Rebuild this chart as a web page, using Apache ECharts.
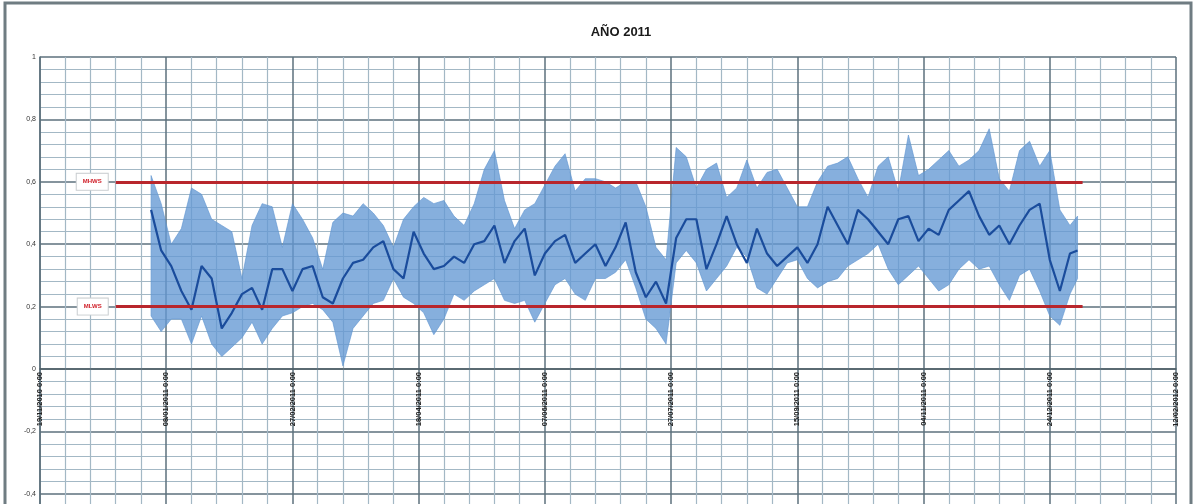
<!DOCTYPE html>
<html>
<head>
<meta charset="utf-8">
<script src="https://cdn.jsdelivr.net/npm/echarts@6/dist/echarts.min.js"></script>
<style>
html, body { margin: 0; padding: 0; background: #fff; }
#grafico { width: 1195px; height: 504px; }
</style>
</head>
<body>
<div id="grafico"></div>
<script>
const titulo = 'AÑO 2011';

// dias contados desde el 19/11/2010
const dias = [44, 48, 52, 56, 60, 64, 68, 72, 76, 80, 84, 88, 92, 96, 100, 104, 108, 112, 116, 120,
    124, 128, 132, 136, 140, 144, 148, 152, 156, 160, 164, 168, 172, 176, 180, 184, 188, 192, 196, 200,
    204, 208, 212, 216, 220, 224, 228, 232, 236, 240, 244, 248, 252, 256, 260, 264, 268, 272, 276, 280,
    284, 288, 292, 296, 300, 304, 308, 312, 316, 320, 324, 328, 332, 336, 340, 344, 348, 352, 356, 360,
    364, 368, 372, 376, 380, 384, 388, 392, 396, 400, 404, 408, 411];

const maximos = [0.62, 0.53, 0.40, 0.45, 0.58, 0.56, 0.48, 0.46, 0.44, 0.29, 0.46, 0.53, 0.52, 0.39, 0.53, 0.48, 0.42, 0.32, 0.47, 0.50,
    0.49, 0.53, 0.50, 0.46, 0.39, 0.48, 0.52, 0.55, 0.53, 0.54, 0.49, 0.46, 0.53, 0.64, 0.70, 0.54, 0.45, 0.51, 0.53, 0.59,
    0.65, 0.69, 0.57, 0.61, 0.61, 0.60, 0.58, 0.60, 0.60, 0.52, 0.39, 0.35, 0.71, 0.68, 0.58, 0.64, 0.66, 0.55, 0.58, 0.67,
    0.58, 0.63, 0.64, 0.58, 0.52, 0.52, 0.60, 0.65, 0.66, 0.68, 0.61, 0.55, 0.65, 0.68, 0.57, 0.75, 0.62, 0.64, 0.67, 0.70,
    0.65, 0.67, 0.70, 0.77, 0.61, 0.57, 0.70, 0.73, 0.65, 0.70, 0.51, 0.46, 0.49];

const minimos = [0.17, 0.12, 0.16, 0.16, 0.08, 0.17, 0.08, 0.04, 0.07, 0.10, 0.15, 0.08, 0.13, 0.17, 0.18, 0.20, 0.21, 0.19, 0.15, 0.01,
    0.13, 0.17, 0.21, 0.22, 0.29, 0.23, 0.21, 0.18, 0.11, 0.16, 0.24, 0.22, 0.25, 0.27, 0.29, 0.22, 0.21, 0.22, 0.15, 0.21,
    0.27, 0.29, 0.24, 0.22, 0.29, 0.29, 0.31, 0.35, 0.26, 0.16, 0.13, 0.08, 0.34, 0.38, 0.34, 0.25, 0.29, 0.33, 0.39, 0.36,
    0.26, 0.24, 0.29, 0.34, 0.35, 0.29, 0.26, 0.28, 0.29, 0.33, 0.35, 0.37, 0.40, 0.32, 0.27, 0.30, 0.33, 0.29, 0.25, 0.27,
    0.32, 0.35, 0.32, 0.33, 0.27, 0.22, 0.30, 0.32, 0.25, 0.17, 0.14, 0.24, 0.29];

const medias = [0.51, 0.38, 0.33, 0.25, 0.19, 0.33, 0.29, 0.13, 0.18, 0.24, 0.26, 0.19, 0.32, 0.32, 0.25, 0.32, 0.33, 0.23, 0.21, 0.29,
    0.34, 0.35, 0.39, 0.41, 0.32, 0.29, 0.44, 0.37, 0.32, 0.33, 0.36, 0.34, 0.40, 0.41, 0.46, 0.34, 0.41, 0.45, 0.30, 0.37,
    0.41, 0.43, 0.34, 0.37, 0.40, 0.33, 0.39, 0.47, 0.31, 0.23, 0.28, 0.21, 0.42, 0.48, 0.48, 0.32, 0.40, 0.49, 0.40, 0.34,
    0.45, 0.37, 0.33, 0.36, 0.39, 0.34, 0.40, 0.52, 0.46, 0.40, 0.51, 0.48, 0.44, 0.40, 0.48, 0.49, 0.41, 0.45, 0.43, 0.51,
    0.54, 0.57, 0.49, 0.43, 0.46, 0.40, 0.46, 0.51, 0.53, 0.35, 0.25, 0.37, 0.38];

const niveles = ['MHWS', 'MLWS'];
const nivelValores = [0.6, 0.2];
const nivelDesde = 30;
const nivelHasta = 413;

const etiquetasY = ['-0,6', '-0,4', '-0,2', '0', '0,2', '0,4', '0,6', '0,8', '1'];

function fechaDia(d) {
    const f = new Date(Date.UTC(2010, 10, 19) + d * 86400000);
    const dd = String(f.getUTCDate()).padStart(2, '0');
    const mm = String(f.getUTCMonth() + 1).padStart(2, '0');
    return dd + '/' + mm + '/' + f.getUTCFullYear() + ' 0:00';
}

const grafico = echarts.init(document.getElementById('grafico'));

const lineaMayor = { color: '#5c717c', width: 1.5 };
const lineaMenor = { color: '#a3b8c5', width: 1.2 };

// grid: 1 arriba (y=57), 0 en y=369, -0,6 fuera del recorte
const gridAlto = 499.2;
const ejeXDesplaz = -(gridAlto * 0.6 / 1.6);

// banda max-min como un poligono, con las escalas del propio eje
function dibujarBanda(params, api) {
    if (params.dataIndex !== 0) return null;
    const arriba = dias.map((d, i) => api.coord([d, maximos[i]]));
    const abajo = dias.map((d, i) => api.coord([d, minimos[i]])).reverse();
    return {
        type: 'polygon',
        shape: { points: arriba.concat(abajo) },
        style: { fill: '#6499d4', opacity: 0.78, stroke: '#5f95d0', lineWidth: 0.8 }
    };
}

const option = {
    animation: false,
    backgroundColor: '#fff',
    title: {
        text: titulo,
        left: 616,
        top: 21,
        textAlign: 'center',
        textStyle: { fontFamily: 'Liberation Sans Narrow, Liberation Sans', fontSize: 13, fontWeight: 'bold', color: '#1a1a1a' }
    },
    graphic: [{
        type: 'rect',
        shape: { x: 5, y: 3, width: 1186, height: 520 },
        style: { fill: 'none', stroke: '#6f7c82', lineWidth: 3 },
        silent: true
    }],
    grid: { left: 40, top: 57, width: 1136, height: gridAlto, outerBoundsMode: 'none', containLabel: false },
    xAxis: {
        type: 'value',
        min: 0,
        max: 450,
        interval: 50,
        offset: ejeXDesplaz,
        axisLine: { onZero: false, lineStyle: { color: '#4c5c64', width: 1.5 } },
        axisTick: { show: false },
        axisLabel: {
            rotate: 90,
            margin: 3,
            fontSize: 7.5,
            fontWeight: 'bold',
            color: '#222',
            formatter: v => fechaDia(v)
        },
        splitLine: { show: true, lineStyle: lineaMayor },
        minorTick: { show: false, splitNumber: 5 },
        minorSplitLine: { show: true, lineStyle: lineaMenor }
    },
    yAxis: {
        type: 'value',
        min: -0.6,
        max: 1,
        interval: 0.2,
        axisLine: { show: true, lineStyle: lineaMayor },
        axisTick: { show: false },
        axisLabel: {
            fontSize: 7,
            color: '#333',
            margin: 4,
            formatter: v => etiquetasY[Math.round((v + 0.6) / 0.2)]
        },
        splitLine: { show: true, lineStyle: lineaMayor },
        minorTick: { show: false, splitNumber: 5 },
        minorSplitLine: { show: true, lineStyle: lineaMenor }
    },
    series: [
        {
            name: 'banda',
            type: 'custom',
            renderItem: dibujarBanda,
            data: dias.map((d, i) => [d, maximos[i], minimos[i]]),
            encode: { x: 0, y: [1, 2] },
            z: 3
        },
        {
            name: 'media',
            type: 'line',
            symbol: 'none',
            data: dias.map((d, i) => [d, medias[i]]),
            lineStyle: { color: '#1a4c9c', width: 2.2 },
            z: 4
        },
        {
            name: 'niveles',
            type: 'line',
            data: [],
            z: 5,
            markLine: {
                silent: true,
                symbol: 'none',
                lineStyle: { color: '#b8262c', width: 3, type: 'solid' },
                label: {
                    position: 'start',
                    distance: 8,
                    formatter: p => p.name,
                    color: '#d0202a',
                    fontSize: 6,
                    fontWeight: 'bold',
                    backgroundColor: '#fff',
                    borderColor: '#c9cdd0',
                    borderWidth: 1,
                    padding: [5, 6]
                },
                data: niveles.map((n, i) => [
                    { name: n, coord: [nivelDesde, nivelValores[i]] },
                    { coord: [nivelHasta, nivelValores[i]] }
                ])
            }
        }
    ]
};

grafico.setOption(option);
</script>
</body>
</html>
